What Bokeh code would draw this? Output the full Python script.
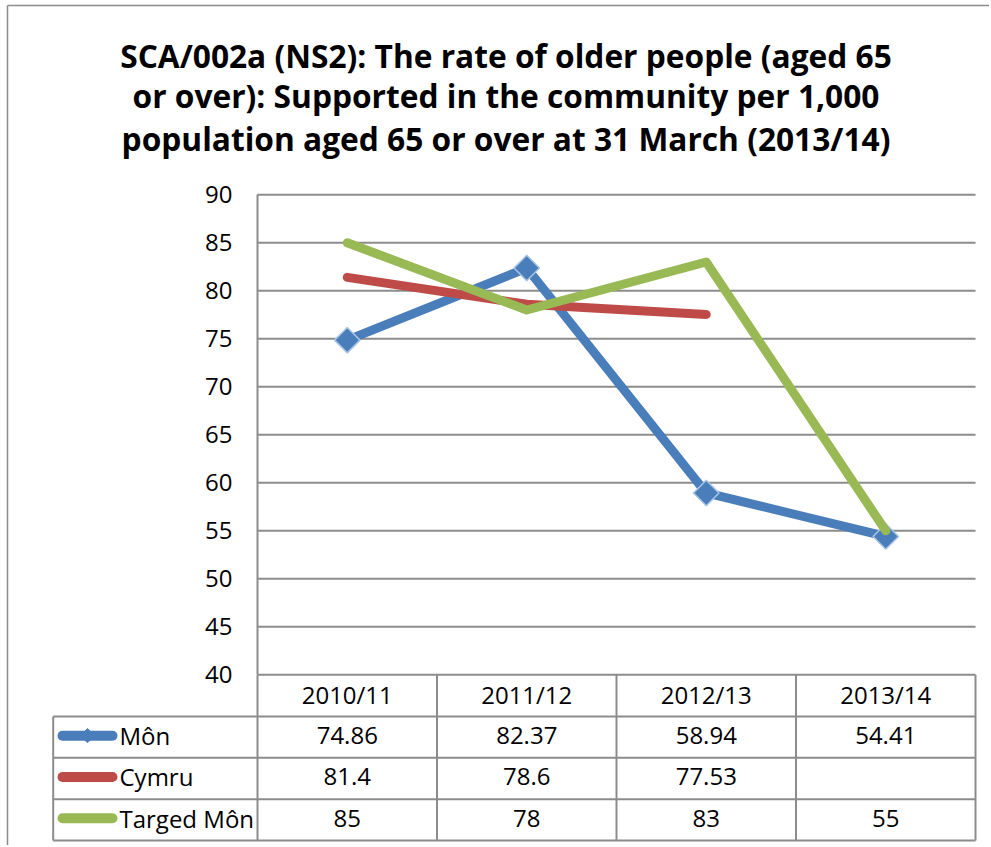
import math
from bokeh.plotting import figure
from bokeh.models import Range1d, FixedTicker
from bokeh.core.properties import value
from bokeh.embed import file_html
from bokeh.resources import INLINE

# ---------------- data ----------------
title_lines = [
    "SCA/002a (NS2): The rate of older people (aged 65",
    "or over): Supported in the community per 1,000",
    "population aged 65 or over at 31 March (2013/14)",
]
categories = ["2010/11", "2011/12", "2012/13", "2013/14"]
series_names = ["Môn", "Cymru", "Targed Môn"]
mon = [74.86, 82.37, 58.94, 54.41]
cymru = [81.4, 78.6, 77.53, float("nan")]
targed = [85, 78, 83, 55]
y_ticks = [40, 45, 50, 55, 60, 65, 70, 75, 80, 85, 90]

# ---------------- style / layout constants ----------------
BLUE = "#4A7EBB"
RED = "#BE4B48"
GREEN = "#98B954"
GRID = "#8C8C8C"
FONT = "Open Sans"
LABEL_SIZE = "24px"
W, H = 989, 845          # canvas size (canvas origin at page 0,0)
PAGE = 0
X0_PX = 257.0            # page x of the value axis (category 0 left edge)
COL_PX = 179.5           # px per category column
Y90_PX = 194.3           # page y of the top tick
Y_PX = 9.6               # px per y unit
ROW_PX = 41.33           # px per table row
HEADER_TOP, HEADER_BOTTOM = 674.3, 716.0
TABLE_LEFT_PX = 52.7


def xd(px):
    """page x -> data x"""
    return (px - X0_PX) / COL_PX


def yd(py):
    """page y -> data y"""
    return y_ticks[-1] - (py - Y90_PX) / Y_PX


series = [(series_names[0], mon, BLUE), (series_names[1], cymru, RED), (series_names[2], targed, GREEN)]
n_cols = len(categories)
n_rows = len(series)
xs = [i + 0.5 for i in range(n_cols)]

p = figure(width=W, height=H,
           x_range=Range1d(xd(PAGE), xd(PAGE + W)),
           y_range=Range1d(yd(PAGE + H), yd(PAGE)),
           x_axis_type=None, toolbar_location=None, output_backend="svg",
           min_border=0, min_border_left=0, min_border_right=0,
           min_border_top=0, min_border_bottom=0,
           outline_line_color=None)
p.grid.visible = False

# chart-area border (top and left edges)
p.segment(x0=[xd(7), xd(7)], x1=[xd(7), xd(PAGE + W)],
          y0=[yd(5), yd(5)], y1=[yd(PAGE + H), yd(5)],
          line_color=GRID, line_width=1.5)

# ---------------- title ----------------
title_base = [55, 95, 138]
p.text(x=[xd(505.5)] * len(title_lines), y=[yd(b) for b in title_base], text=title_lines,
       text_font=value(FONT), text_font_size="31.7px", text_font_style="bold",
       text_align="center", text_baseline="alphabetic", text_color="black")

# ---------------- value axis ----------------
yaxis = p.yaxis[0]
yaxis.fixed_location = 0
yaxis.bounds = (y_ticks[0], y_ticks[-1])
yaxis.ticker = FixedTicker(ticks=y_ticks)
yaxis.major_tick_out = 0
yaxis.major_tick_in = 0
yaxis.minor_tick_out = 0
yaxis.minor_tick_in = 0
yaxis.axis_line_color = GRID
yaxis.axis_line_width = 2
yaxis.major_label_text_font = FONT
yaxis.major_label_text_font_size = LABEL_SIZE
yaxis.major_label_text_color = "black"
yaxis.major_label_standoff = 25

# horizontal gridlines across the plot area
p.segment(x0=[0] * len(y_ticks), x1=[n_cols] * len(y_ticks), y0=y_ticks, y1=y_ticks,
          line_color=GRID, line_width=2)

# ---------------- series ----------------
for name, vals, col in series:
    p.line(x=xs, y=vals, line_color=col, line_width=9, line_cap="round", line_join="round")
    if name == series_names[0]:
        p.scatter(x=xs, y=vals, marker="square", angle=math.pi / 4, size=18,
                  fill_color=BLUE, line_color="#A9C3E6", line_width=1.5)

# ---------------- data table ----------------
row_edges_px = [HEADER_BOTTOM + r * ROW_PX for r in range(n_rows + 1)]
row_mid_px = [HEADER_BOTTOM + (r + 0.5) * ROW_PX for r in range(n_rows)]
label_left = xd(TABLE_LEFT_PX)
bottom_y = yd(row_edges_px[-1])

# horizontal lines of the table body
p.segment(x0=[label_left] * len(row_edges_px), x1=[n_cols] * len(row_edges_px),
          y0=[yd(v) for v in row_edges_px], y1=[yd(v) for v in row_edges_px],
          line_color=GRID, line_width=2)
# vertical column dividers (header + body)
vx = list(range(n_cols + 1))
p.segment(x0=vx, x1=vx, y0=[y_ticks[0]] * len(vx), y1=[bottom_y] * len(vx),
          line_color=GRID, line_width=2)
p.segment(x0=[label_left], x1=[label_left], y0=[yd(row_edges_px[0])], y1=[bottom_y],
          line_color=GRID, line_width=2)

# header: category names
p.text(x=xs, y=[yd((HEADER_TOP + HEADER_BOTTOM) / 2 - 1.5)] * n_cols, text=categories,
       text_font=value(FONT), text_font_size=LABEL_SIZE, text_align="center",
       text_baseline="middle", text_color="black")

key_x0, key_x1 = xd(62), xd(112)
text_x = xd(119)
for r, (name, vals, col) in enumerate(series):
    yc = yd(row_mid_px[r] - 1.5)
    p.segment(x0=[key_x0], x1=[key_x1], y0=[yc], y1=[yc], line_color=col,
              line_width=10, line_cap="round")
    if r == 0:
        p.scatter(x=[(key_x0 + key_x1) / 2], y=[yc], marker="square", angle=math.pi / 4,
                  size=10, fill_color=col, line_color=col)
    p.text(x=[text_x], y=[yc], text=[name], text_font=value(FONT),
           text_font_size=LABEL_SIZE, text_align="left", text_baseline="middle",
           text_color="black")
    labels = ["" if (isinstance(v, float) and math.isnan(v)) else f"{v:g}" for v in vals]
    p.text(x=xs, y=[yc] * n_cols, text=labels, text_font=value(FONT),
           text_font_size=LABEL_SIZE, text_align="center", text_baseline="middle",
           text_color="black")

open("out.html", "w").write(file_html(p, INLINE))
